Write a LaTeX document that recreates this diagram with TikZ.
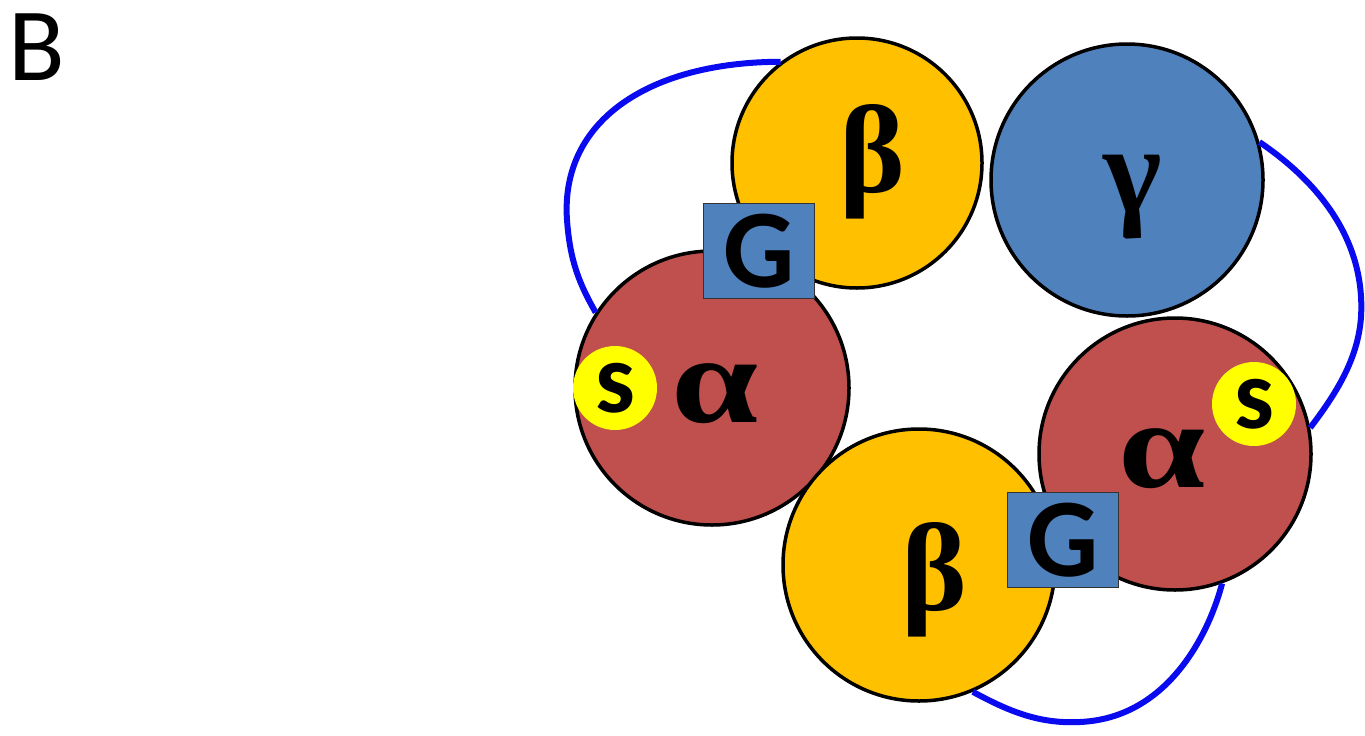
\documentclass[tikz,border=0pt]{standalone}
\usepackage{fontspec}
\setmainfont{Liberation Serif}
\newfontfamily\calfont{Carlito}
\definecolor{cOrange}{HTML}{FFC000}
\definecolor{cBlue}{HTML}{4F81BD}
\definecolor{cRed}{HTML}{C0504D}
\definecolor{cYel}{HTML}{FFFF00}
\definecolor{cLine}{HTML}{0A0AF0}
\tikzset{
  sub/.style={circle, draw=black, line width=3.5pt, inner sep=0pt},
  greek/.style={inner sep=0pt, font=\fontsize{125}{125}\selectfont\bfseries},
  gbox/.style={rectangle, draw=black!80, line width=1.5pt, fill=cBlue, minimum width=111pt, minimum height=95pt, inner sep=0pt, font=\calfont\bfseries\fontsize{112}{112}\selectfont},
  sdot/.style={circle, fill=cYel, minimum size=84pt, inner sep=0pt, font=\calfont\bfseries\fontsize{100}{100}\selectfont},
  tether/.style={draw=cLine, line width=6pt}
}
\begin{document}
\begin{tikzpicture}[x=1pt,y=-1pt]
\useasboundingbox (0,0) rectangle (1365,736);
\node[anchor=base west, inner sep=0pt, font=\calfont\fontsize{104}{104}\selectfont] (lab) at (8,80) {B};
% circles
\node[sub, fill=cOrange, minimum size=250pt] (b1) at (857,163) {};
\node[sub, fill=cBlue, minimum size=272pt] (gm) at (1127,180) {};
\node[sub, fill=cRed, minimum size=274pt] (a1) at (712,388) {};
\node[sub, fill=cRed, minimum size=272pt] (a2) at (1175,454) {};
\node[sub, fill=cOrange, minimum size=272pt] (b2) at (919,565) {};
% greek labels
\node[greek] (tb1) at (872,162) {β};
\node[greek] (tgm) at (1133,197) {γ};
\node[greek] (ta1) at (715,394) {\scalebox{1.25}[1]{α}};
\node[greek] (ta2) at (1162,459) {\scalebox{1.25}[1]{α}};
\node[greek] (tb2) at (934,580) {β};
% S dots
\node[sdot] (s1) at (615,388) {s};
\node[sdot] (s2) at (1254,404) {s};
% G boxes
\node[gbox] (G1) at (759,251) {G};
\node[gbox] (G2) at (1063,540) {G};
% tethers
\draw[tether] (b1.127) .. controls (650,62) and (560,120) .. (567,220) .. controls (570,262) and (580,285) .. (a1.147);
\draw[tether] (gm.16) .. controls (1330,190) and (1365,250) .. (1361,317) .. controls (1358,360) and (1335,395) .. (a2.11);
\draw[tether] (b2.-67) .. controls (1010,712) and (1040,724) .. (1080,722) .. controls (1170,718) and (1210,630) .. (a2.-70);
\end{tikzpicture}
\end{document}
